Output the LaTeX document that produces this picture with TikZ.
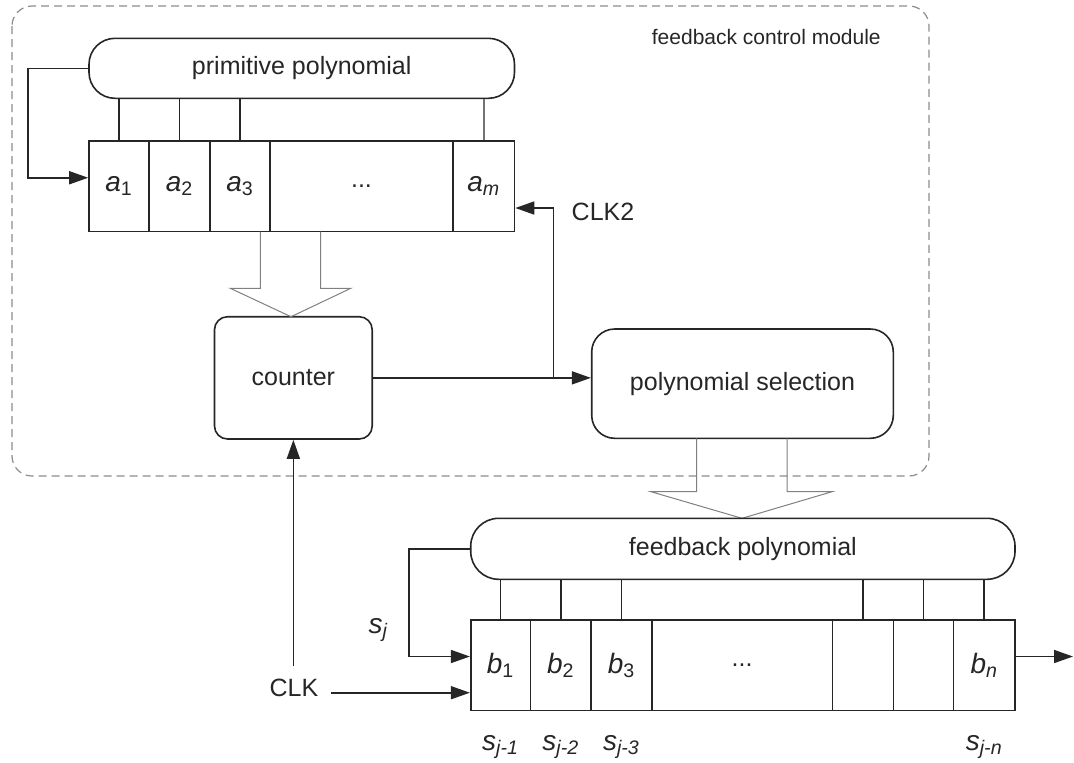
\documentclass[tikz,border=0pt]{standalone}
\usepackage{fontspec}
\setmainfont{Liberation Sans}
\usetikzlibrary{arrows.meta,calc}
\begin{document}
\begin{tikzpicture}[x=0.5pt,y=-0.5pt,
  color=black!85, line width=0.8pt,
  txt/.style={font=\fontsize{12.5}{15}\selectfont},
  lbl/.style={font=\fontsize{14}{16}\selectfont},
  cell/.style={draw, line width=0.8pt, inner sep=0pt, minimum height=45.4pt, lbl},
  rbox/.style={draw, line width=0.8pt, inner sep=0pt, txt},
  arr/.style={-{Triangle[length=9.5pt,width=6.5pt]}},
  hollow/.style={draw=black!50, line width=0.5pt},
  module/.style={draw=black!45, line width=0.6pt, dash pattern=on 4pt off 2.5pt, rounded corners=10pt}]
\useasboundingbox (0,0) rectangle (1074,762);

% module frame
\draw[module] (12,6) rectangle (929,476);
\node[font=\fontsize{10.5}{12}\selectfont] (fcm) at (766.3,36.7) {feedback control module};

% primitive polynomial + register a
\node[rbox, rounded corners=13pt, minimum width=212.75pt, minimum height=30pt] (pp) at (301.75,68.3) {primitive polynomial};
\node[cell, minimum width=30pt]    (a1) at (119,186.25) {\textit{a}\textsubscript{1}};
\node[cell, minimum width=30.5pt]  (a2) at (179.5,186.25) {\textit{a}\textsubscript{2}};
\node[cell, minimum width=30pt]    (a3) at (240,186.25) {\textit{a}\textsubscript{3}};
\node[cell, minimum width=91.5pt, txt]  (ad) at (361.5,186.25) {...};
\node[cell, minimum width=30.75pt] (am) at (483.75,186.25) {\textit{a}\textsubscript{\textit{m}}};
\foreach \c in {a1,a2,a3} \draw (\c.north) -- (\c.north |- pp.south);
\draw[black!55] (am.north) -- (am.north |- pp.south);

\coordinate (a1in) at ($(a1.west)+(0,-8.5)$);
\coordinate (fbl) at (28,0);
\draw[arr] (pp.west) -| (fbl |- a1in) -- (a1in);

% counter and polynomial selection
\node[rbox, rounded corners=6.5pt, minimum width=78.85pt, minimum height=61.15pt] (cnt) at (293.35,377.85) {counter};
\node[rbox, rounded corners=11.5pt, minimum width=150.8pt, minimum height=54.65pt] (ps) at (742.5,383.65) {polynomial selection};
\draw[arr] (cnt.east) -- (cnt.east -| ps.west);

\coordinate (jn) at (553.3,0);
\coordinate (amin) at ($(am.east)+(0,21.75)$);
\draw[arr] (jn |- cnt.east) |- (amin);
\node[txt] (clk2) at (603,211.7) {CLK2};

% hollow arrows
\draw[hollow] (260.3,231.7) -- (260.3,288.3) -- (230.3,288.3) -- (291,316.7) -- (350.8,288.3) -- (320.5,288.3) -- (320.5,231.7);
\draw[hollow] (696.5,438.3) -- (696.5,491.7) -- (651,491.7) -- (742,518.3) -- (832,491.7) -- (787,491.7) -- (787,438.3);

% feedback polynomial + register b
\node[rbox, rounded corners=14pt, minimum width=272.15pt, minimum height=30.5pt] (fp) at (742.85,548.8) {feedback polynomial};
\node[cell, minimum width=29.9pt]  (b1) at (500.6,665.1) {\textit{b}\textsubscript{1}};
\node[cell, minimum width=30.35pt] (b2) at (560.85,665.1) {\textit{b}\textsubscript{2}};
\node[cell, minimum width=30.3pt]  (b3) at (621.5,665.1) {\textit{b}\textsubscript{3}};
\node[cell, minimum width=90.3pt, txt]  (bd) at (742.1,665.1) {...};
\node[cell, minimum width=30.55pt] (bx) at (862.95,665.1) {};
\node[cell, minimum width=30pt]    (by) at (923.5,665.1) {};
\node[cell, minimum width=30.75pt] (bn) at (984.25,665.1) {\textit{b}\textsubscript{\textit{n}}};
\foreach \c in {b1,b2,b3,bx,by,bn} \draw (\c.north) -- (\c.north |- fp.south);

\coordinate (b1in) at ($(b1.west)+(0,-8.6)$);
\coordinate (sjl) at (408.8,0);
\draw[arr] (fp.west) -| (sjl |- b1in) -- (b1in);
\node[lbl] (sj) at (378.5,630) {\textit{s}\textsubscript{\textit{j}}};

% CLK
\node[txt, inner sep=6pt] (clk) at (294,688) {CLK};
\draw[arr] (cnt.south |- clk.north) -- (cnt.south);
\coordinate (b1clk) at ($(b1.west)+(0,27.6)$);
\draw[arr] (clk.east |- b1clk) -- (b1clk);

% output
\coordinate (outp) at (1073,656.5);
\draw[arr] (bn.east |- outp) -- (outp);

% s labels
\coordinate (sy) at (0,746.7);
\node[lbl] (s1) at (b1 |- sy) {\textit{s}\textsubscript{\textit{j-1}}};
\node[lbl] (s2) at (b2 |- sy) {\textit{s}\textsubscript{\textit{j-2}}};
\node[lbl] (s3) at (b3 |- sy) {\textit{s}\textsubscript{\textit{j-3}}};
\node[lbl] (sn) at (bn |- sy) {\textit{s}\textsubscript{\textit{j-n}}};
\end{tikzpicture}
\end{document}
